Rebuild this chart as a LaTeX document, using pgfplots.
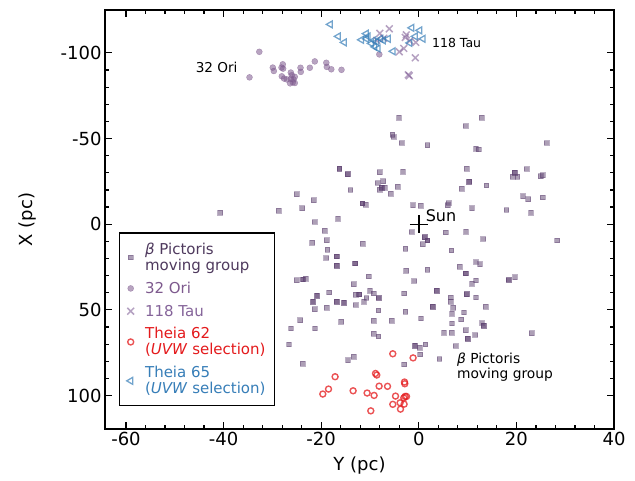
\documentclass[border=0pt]{standalone}
\usepackage{fontspec}
\setmainfont{DejaVu Sans}
\usepackage{pgfplots}
\pgfplotsset{compat=1.18}

\definecolor{bpic}{HTML}{5B3F6E}
\definecolor{bpictext}{HTML}{4F3A5E}
\definecolor{ori}{HTML}{7E5A8E}
\definecolor{tau}{HTML}{85649A}
\definecolor{theiaA}{HTML}{E41A1C}
\definecolor{theiaB}{HTML}{377EB8}

\begin{document}
\begin{tikzpicture}
\useasboundingbox (0,0) rectangle (635pt,481pt);
\begin{axis}[
    at={(105pt,52pt)}, anchor=south west,
    scale only axis, width=509pt, height=419pt,
    xmin=-64.3, xmax=40, ymin=-125, ymax=119.5,
    y dir=reverse,
    xtick={-60,-40,...,40}, ytick={-100,-50,...,100},
    minor x tick num=4, minor y tick num=4,
    tick align=inside, major tick length=7pt, minor tick length=4pt,
    every tick/.style={black, line width=1.2pt},
    axis line style={line width=1.6pt},
    xtick pos=both, ytick pos=both,
    /pgf/number format/assume math mode=true,
    ticklabel style={font=\fontsize{18}{18}\selectfont},
    xlabel={Y (pc)}, ylabel={X (pc)},
    label style={font=\fontsize{18}{18}\selectfont},
    x label style={at={(axis description cs:0.5,-0.088)}, anchor=center},
    y label style={at={(axis description cs:-0.153,0.5)}, anchor=center},
    legend style={at={(0.0275,0.0549)}, anchor=south west, draw=black,
        line width=1.4pt, font=\fontsize{15}{16}\selectfont,
        cells={anchor=west, align=left}, row sep=6pt, column sep=9pt,
        inner xsep=7pt, inner ysep=8pt},
    legend cell align=left,
]

% beta Pictoris moving group
\addplot[only marks, mark=square*, mark size=2.4pt,
    mark options={draw=bpic, fill=bpic, fill opacity=0.5, draw opacity=0.4, line width=0.8pt}]
table[row sep=\\] {
x y \\
-4.04 -62.2 \\ 12.85 -62.2 \\ 9.57 -57.3 \\ -5.39 -52.3 \\ -5.18 -50.9 \\
-3.48 -47.4 \\ 1.78 -46.1 \\ 11.74 -44.1 \\ 12.29 -43.7 \\ 26.17 -47.4 \\
-16.25 -32.5 \\ -16.25 -32.5 \\ -14.61 -29.2 \\ -14.61 -29.2 \\ -7.99 -30.3 \\
-3.22 -30.7 \\ 9.84 -32.5 \\ 10.31 -24.7 \\ 10.31 -24.7 \\ 8.75 -20.8 \\
13.87 -22.6 \\ 19.67 -30.1 \\ 19.67 -30.1 \\ 19.2 -27.8 \\ 20.22 -27.8 \\
22.07 -32.2 \\ 24.94 -28.0 \\ 25.35 -28.6 \\ -8.4 -24.1 \\ -7.31 -25.1 \\
-7.64 -21.4 \\ -7.64 -21.4 \\ -7.99 -20.2 \\ -6.97 -21.2 \\ -4.36 -22.0 \\
-5.74 -17.7 \\ -14.0 -20.0 \\ -25.06 -17.5 \\ -21.51 -14.0 \\ -23.91 -9.3 \\
-28.69 -7.8 \\ -40.71 -6.8 \\ -11.54 -12.2 \\ -11.54 -12.2 \\ -10.92 -11.5 \\
-1.17 -11.1 \\ 0.35 -10.9 \\ 6.15 -12.4 \\ 5.94 -11.1 \\ 10.92 -9.3 \\
17.97 -8.3 \\ 21.37 -16.3 \\ 22.4 -14.6 \\ 25.35 -15.6 \\ 23.01 -6.8 \\
28.34 9.5 \\ -21.37 -1.3 \\ -16.54 -3.3 \\ -1.43 4.5 \\ 1.23 7.6 \\
1.23 7.6 \\ 1.78 9.5 \\ 1.78 9.5 \\ 0.76 11.7 \\ 5.53 4.8 \\
9.69 4.3 \\ 13.18 8.6 \\ -19.26 3.9 \\ -18.85 9.3 \\ -21.86 10.7 \\
-11.47 11.3 \\ -2.73 14.4 \\ 6.7 15.3 \\ -18.71 14.8 \\ -18.99 19.7 \\
-16.86 18.8 \\ -16.86 18.8 \\ -16.86 24.1 \\ -16.86 24.1 \\ -13.05 22.9 \\
-13.05 22.9 \\ -25.06 32.7 \\ -23.71 32.2 \\ -23.71 32.2 \\ -23.21 31.9 \\
-10.25 30.5 \\ -13.32 35.0 \\ -2.6 27.2 \\ 1.78 26.6 \\ -0.96 33.1 \\
8.4 24.9 \\ 9.63 28.7 \\ 9.63 28.7 \\ 11.74 22.0 \\ 12.56 23.3 \\
11.74 32.8 \\ 10.92 34.6 \\ 18.44 32.5 \\ 18.44 32.5 \\ 19.73 30.9 \\
3.63 38.7 \\ 3.63 38.7 \\ 9.84 40.8 \\ 9.84 40.8 \\ 11.74 42.7 \\
6.5 42.7 \\ 6.5 45.1 \\ 7.03 48.8 \\ 9.28 51.5 \\ 6.82 52.3 \\
8.67 55.6 \\ 6.82 57.9 \\ 12.97 57.7 \\ 13.32 59.3 \\ 13.32 59.3 \\
13.73 48.2 \\ 2.87 48.2 \\ 2.87 48.2 \\ 0.47 55.0 \\ -2.73 51.1 \\
-3.01 40.4 \\ -8.26 50.3 \\ -5.59 56.2 \\ -9.22 56.4 \\ -12.91 41.2 \\
-12.23 41.0 \\ -12.23 41.0 \\ -10.72 43.0 \\ -11.21 45.1 \\ -9.98 38.7 \\
-9.22 40.4 \\ -8.2 43.1 \\ -8.2 43.1 \\ -12.97 47.1 \\ -18.38 39.8 \\
-20.84 41.6 \\ -20.84 41.6 \\ -21.66 45.3 \\ -21.66 45.3 \\ -16.8 45.3 \\
-16.8 45.3 \\ -15.31 45.7 \\ -15.31 45.7 \\ -18.91 48.8 \\ -21.31 49.6 \\
-24.32 56.0 \\ -15.92 57.0 \\ -26.17 60.8 \\ -21.25 60.8 \\ 9.63 61.8 \\
-26.58 70.1 \\ -23.77 81.5 \\ -9.28 64.0 \\ -8.26 65.5 \\ -14.49 79.3 \\
-13.38 77.4 \\ -3.01 81.8 \\ -0.76 71.0 \\ -0.76 71.0 \\ 0.2 72.1 \\
1.37 70.1 \\ 0.27 76.0 \\ 4.24 78.7 \\ 5.18 63.2 \\ 6.76 63.4 \\
9.98 66.9 \\ 9.98 66.9 \\ 11.54 64.7 \\ 7.52 71.1 \\ 23.15 63.6 \\
};
\addlegendentry{\color{bpictext}{\itshape β} Pictoris\\\color{bpictext}moving group}

% 32 Ori
\addplot[only marks, mark=*, mark size=3pt,
    mark options={draw=ori, fill=ori, opacity=0.55, line width=0.4pt}]
table[row sep=\\] {
x y \\
-32.68 -100.6 \\ -34.69 -85.7 \\ -29.92 -91.4 \\ -29.71 -89.4 \\ -27.87 -93.3 \\
-28.13 -91.4 \\ -27.8 -90.8 \\ -28.07 -86.3 \\ -27.6 -85.0 \\ -26.23 -88.5 \\
-26.02 -86.9 \\ -27.05 -84.5 \\ -26.23 -84.8 \\ -25.67 -84.5 \\ -25.41 -86.0 \\
-25.82 -82.8 \\ -26.37 -82.2 \\ -25.41 -82.4 \\ -24.24 -91.3 \\ -24.18 -88.9 \\
-22.33 -91.3 \\ -21.31 -95.0 \\ -18.95 -94.2 \\ -18.85 -91.8 \\ -17.93 -90.4 \\
-15.84 -90.1 \\ -8.09 -99.1 \\
};
\addlegendentry{\color{ori}32 Ori}

% 118 Tau
\addplot[only marks, mark=x, mark size=4.8pt,
    mark options={draw=tau, opacity=0.6, line width=1.5pt}]
table[row sep=\\] {
x y \\
-7.99 -111.4 \\ -6.04 -114.0 \\ -7.17 -108.5 \\ -8.61 -107.3 \\ -2.56 -110.5 \\
-2.77 -109.0 \\ -1.84 -107.0 \\ -0.61 -106.1 \\ -4.0 -100.6 \\ -3.07 -102.6 \\
-0.72 -97.1 \\ -2.15 -87.2 \\ -1.95 -86.6 \\
};
\addlegendentry{\color{tau}118 Tau}

% Theia 62
\addplot[only marks, mark=o, mark size=3pt,
    mark options={draw=theiaA, opacity=0.75, line width=1.4pt}]
table[row sep=\\] {
x y \\
-5.33 75.6 \\ -1.17 78.0 \\ -17.15 89.0 \\ -8.87 87.1 \\ -8.61 88.0 \\
-2.93 92.1 \\ -2.87 93.1 \\ -18.5 96.2 \\ -19.67 99.1 \\ -13.46 97.2 \\
-8.13 94.5 \\ -6.41 94.6 \\ -10.59 98.5 \\ -9.16 99.9 \\ -4.77 100.3 \\
-2.81 100.5 \\ -2.52 100.5 \\ -3.07 101.3 \\ -5.33 105.1 \\ -3.83 104.2 \\
-3.01 105.0 \\ -3.75 107.9 \\ -9.84 108.9 \\
};
\addlegendentry{\color{theiaA}Theia 62\\\color{theiaA}(\textit{UVW} selection)}

% Theia 65
\addplot[only marks, mark=triangle, mark size=4pt,
    mark options={draw=theiaB, rotate=90, opacity=0.7, line width=1.3pt}]
table[row sep=\\] {
x y \\
-18.13 -116.6 \\ -16.49 -109.6 \\ -15.27 -106.1 \\ -11.74 -107.6 \\ -10.76 -111.2 \\
-10.39 -109.6 \\ -10.72 -108.2 \\ -9.73 -105.5 \\ -9.02 -103.5 \\ -8.34 -102.5 \\
-9.22 -107.3 \\ -8.61 -106.4 \\ -7.79 -108.2 \\ -7.27 -107.3 \\ -6.25 -108.2 \\
-5.27 -100.9 \\ -1.43 -114.6 \\ 0.2 -113.1 \\ -0.72 -109.6 \\ 0.88 -108.2 \\
-1.84 -105.8 \\
};
\addlegendentry{\color{theiaB}Theia 65\\\color{theiaB}(\textit{UVW} selection)}

% Sun
\addplot[only marks, mark=+, mark size=9pt, mark options={draw=black, line width=1.4pt},
    forget plot] coordinates {(0,0)};

\node[anchor=base west, inner sep=0pt, font=\fontsize{16}{16}\selectfont] at (axis cs:1.4,-1.7) {Sun};
\node[anchor=base west, inner sep=0pt, font=\fontsize{12.5}{12.5}\selectfont] at (axis cs:2.7,-103.2) {118 Tau};
\node[anchor=base east, inner sep=0pt, font=\fontsize{13.6}{13.6}\selectfont] at (axis cs:-37.1,-88.8) {32 Ori};
\node[anchor=base west, inner sep=0pt, font=\fontsize{13.8}{13.8}\selectfont] at (axis cs:7.8,81.0) {{\itshape β} Pictoris};
\node[anchor=base west, inner sep=0pt, font=\fontsize{13.8}{13.8}\selectfont] at (axis cs:7.8,89.8) {moving group};
\end{axis}
\end{tikzpicture}
\end{document}
